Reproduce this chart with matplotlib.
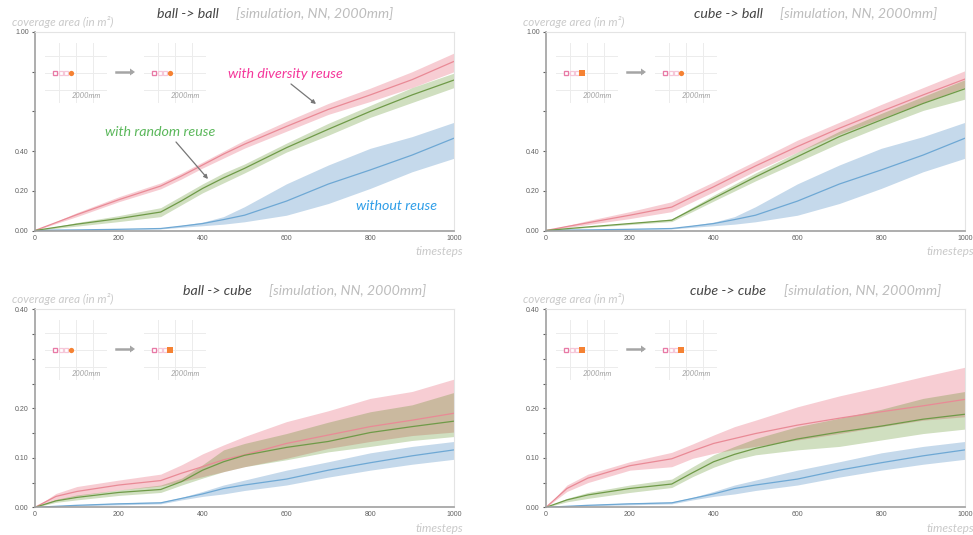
import matplotlib
matplotlib.use('Agg')
import matplotlib.pyplot as plt

W, H = 973, 535

timesteps = [0, 50, 100, 200, 300, 350, 400, 450, 500, 600, 700, 800, 900, 1000]
xticks = [0, 200, 400, 600, 800, 1000]

# ball -> ball
bb_pink = [0, .04, .08, .155, .224, .275, .33, .385, .435, .524, .61, .683, .76, .852]
bb_pink_hi = [0, .045, .09, .17, .24, .29, .345, .40, .455, .55, .64, .717, .80, .894]
bb_pink_lo = [0, .035, .07, .145, .21, .26, .315, .365, .415, .50, .585, .65, .72, .80]
bb_green = [0, .016, .032, .06, .093, .15, .212, .265, .313, .417, .51, .60, .683, .758]
bb_green_hi = [0, .02, .04, .075, .115, .175, .235, .29, .335, .44, .54, .63, .72, .793]
bb_green_lo = [0, .011, .022, .045, .07, .13, .19, .24, .29, .395, .48, .57, .645, .72]

# cube -> ball
cb_pink = [0, .02, .039, .077, .118, .17, .22, .273, .325, .423, .515, .60, .683, .763]
cb_pink_hi = [0, .025, .05, .095, .145, .195, .245, .298, .35, .455, .545, .635, .72, .805]
cb_pink_lo = [0, .015, .03, .06, .095, .145, .195, .248, .30, .395, .485, .565, .645, .722]
cb_green = [0, .009, .018, .035, .052, .107, .162, .216, .27, .372, .473, .557, .64, .714]
cb_green_hi = [0, .01, .02, .038, .058, .118, .178, .234, .29, .395, .50, .59, .675, .76]
cb_green_lo = [0, .007, .015, .03, .045, .096, .148, .199, .25, .345, .44, .525, .605, .662]

# without reuse is the same in both ball panels
ball_blue = [0, .002, .003, .006, .01, .022, .035, .055, .077, .148, .234, .305, .38, .465]
ball_blue_hi = [0, .002, .004, .007, .012, .026, .042, .07, .12, .235, .33, .414, .473, .545]
ball_blue_lo = [0, .001, .002, .005, .008, .016, .024, .032, .044, .077, .136, .212, .296, .364]

# ball -> cube
bc_pink = [0, .022, .032, .045, .054, .069, .082, .096, .106, .129, .146, .163, .176, .19]
bc_pink_hi = [0, .028, .042, .055, .067, .086, .108, .126, .143, .173, .195, .22, .234, .259]
bc_pink_lo = [0, .015, .023, .035, .043, .052, .062, .072, .082, .099, .119, .133, .145, .152]
bc_green = [0, .013, .02, .03, .036, .052, .075, .092, .105, .121, .133, .151, .163, .174]
bc_green_hi = [0, .016, .025, .035, .045, .059, .086, .116, .129, .149, .172, .193, .207, .232]
bc_green_lo = [0, .01, .015, .024, .03, .045, .059, .072, .082, .096, .112, .123, .135, .143]

# cube -> cube
cc_pink = [0, .038, .059, .084, .098, .114, .129, .139, .149, .166, .18, .193, .205, .218]
cc_pink_hi = [0, .045, .067, .092, .111, .128, .146, .163, .176, .203, .225, .244, .264, .283]
cc_pink_lo = [0, .032, .05, .075, .082, .099, .109, .117, .123, .136, .149, .163, .176, .183]
cc_green = [0, .015, .025, .038, .047, .07, .092, .107, .119, .138, .152, .164, .178, .188]
cc_green_hi = [0, .018, .03, .045, .057, .082, .106, .123, .139, .163, .18, .198, .22, .234]
cc_green_lo = [0, .011, .018, .03, .04, .062, .081, .096, .106, .116, .123, .136, .149, .158]

# without reuse in both cube panels
cube_blue = [0, .002, .004, .007, .009, .018, .027, .038, .045, .057, .075, .09, .104, .116]
cube_blue_hi = [0, .003, .005, .009, .011, .02, .032, .045, .055, .075, .092, .11, .123, .133]
cube_blue_lo = [0, .001, .003, .005, .007, .015, .022, .027, .034, .045, .061, .075, .087, .097]

# inset sketch, in mm around the target
inset_grid = [-1000, 0, 1000]
path_x = [-1235, -900, -590]
target_x = -275

plt.rcParams['font.family'] = ['Lato', 'DejaVu Sans']

PINK = dict(line='#e98a96', fill='#e03850')
GREEN = dict(line='#6f9a48', fill='#448004')
BLUE = dict(line='#6ea8d4', fill='#1868b0')


def band(ax, mean, lo, hi, c):
    ax.fill_between(timesteps, lo, hi, color=c['fill'], alpha=0.25, lw=0)
    ax.plot(timesteps, mean, color=c['line'], lw=0.9)


def put(fig, x, y, s, **kw):
    # text placed in reference pixels
    fig.text(x / W, 1 - y / H, s, va='center', **kw)


def sketch(fig, x0, y0, first_cube, second_cube):
    arrow_y = 1 - y0 / H
    for k, cube in enumerate([first_cube, second_cube]):
        cx = x0 + k * 99
        a = fig.add_axes([(cx - 31) / W, 1 - (y0 + 31) / H, 62 / W, 60 / H])
        a.set_xlim(-1820, 1820)
        a.set_ylim(-1760, 1760)
        a.axis('off')
        for g in inset_grid:
            a.axhline(g, color='#ececec', lw=0.7)
            a.axvline(g, color='#ececec', lw=0.7)
        a.plot(path_x, [0] * 3, ls='', marker='s', ms=3, mfc='white', mec='#f6c6d8', mew=0.9)
        a.plot(path_x[0], 0, marker='s', ms=3.2, mfc='white', mec='#e87aa6', mew=0.9)
        a.plot(target_x, 0, marker='s' if cube else 'o', ms=4.4 if cube else 3.8, color='#f58233', mew=0)
        put(fig, cx + 10.5, y0 + 24, '2000mm', color='#a0a0a0', fontsize=5.4,
            style='italic', ha='center')
    fig.add_artist(plt.Line2D([(x0 + 40) / W, (x0 + 55) / W], [arrow_y, arrow_y], color='#a5a5a5', lw=1.8))
    fig.patches.append(plt.Polygon([[(x0 + 54) / W, arrow_y + 3.5 / H], [(x0 + 59) / W, arrow_y],
                                    [(x0 + 54) / W, arrow_y - 3.5 / H]], transform=fig.transFigure,
                                   color='#a5a5a5', lw=0, figure=fig))


def panel(fig, x0, y_top, y_bot, ymax, yticks, ylabels, series, head, head_x, tail_x, title_y, label_y, steps_y):
    ax = fig.add_axes([x0 / W, 1 - y_bot / H, 419 / W, (y_bot - y_top) / H])
    for mean, lo, hi, c in series:
        band(ax, mean, lo, hi, c)
    ax.set_xlim(0, 1000)
    ax.set_ylim(0, ymax)
    ax.set_xticks(xticks)
    ax.set_yticks(yticks)
    ax.set_yticklabels(ylabels)
    ax.tick_params(labelsize=5, colors='#606060', length=2.5, width=0.8, pad=2,
                   labelfontfamily='Liberation Sans')
    ax.tick_params(axis='x', length=0, pad=3)
    for s in ['top', 'right']:
        ax.spines[s].set_color('#e4e4e4')
        ax.spines[s].set_linewidth(0.8)
    for s in ['left', 'bottom']:
        ax.spines[s].set_color('#a0a0a0')
        ax.spines[s].set_linewidth(1.2)
    put(fig, head_x, title_y, head, color='#444444', fontsize=10.2, style='italic')
    put(fig, tail_x, title_y, '[simulation, NN, 2000mm]', color='#bdbdbd', fontsize=10.2, style='italic')
    put(fig, x0 - 23, label_y, 'coverage area (in m²)', color='#c9c9c9', fontsize=8.4, style='italic')
    put(fig, x0 + 428, steps_y, 'timesteps', color='#c9c9c9', fontsize=8.6, style='italic', ha='right')
    return ax


fig = plt.figure(figsize=(W / 100, H / 100), dpi=100, facecolor='white')

top_ticks = [0, .2, .4, .6, .8, 1.0]
top_labels = ['0.00', '0.20', '0.40', '', '', '1.00']
bot_ticks = [0, .05, .1, .15, .2, .25, .3, .35, .4]
bot_labels = ['0.00', '', '0.10', '', '0.20', '', '', '', '0.40']

ax1 = panel(fig, 35, 32, 230.5, 1.0, top_ticks, top_labels,
            [(ball_blue, ball_blue_lo, ball_blue_hi, BLUE),
             (bb_pink, bb_pink_lo, bb_pink_hi, PINK),
             (bb_green, bb_green_lo, bb_green_hi, GREEN)],
            'ball -> ball', 157, 236, 14, 22, 251)
panel(fig, 546, 32, 230.5, 1.0, top_ticks, top_labels,
      [(ball_blue, ball_blue_lo, ball_blue_hi, BLUE),
       (cb_pink, cb_pink_lo, cb_pink_hi, PINK),
       (cb_green, cb_green_lo, cb_green_hi, GREEN)],
      'cube -> ball', 694, 780, 14, 22, 251)
panel(fig, 35, 309.3, 507.3, 0.4, bot_ticks, bot_labels,
      [(cube_blue, cube_blue_lo, cube_blue_hi, BLUE),
       (bc_pink, bc_pink_lo, bc_pink_hi, PINK),
       (bc_green, bc_green_lo, bc_green_hi, GREEN)],
      'ball -> cube', 183, 269, 291, 299, 528)
panel(fig, 546, 309.3, 507.3, 0.4, bot_ticks, bot_labels,
      [(cube_blue, cube_blue_lo, cube_blue_hi, BLUE),
       (cc_pink, cc_pink_lo, cc_pink_hi, PINK),
       (cc_green, cc_green_lo, cc_green_hi, GREEN)],
      'cube -> cube', 690, 784, 291, 299, 528)

sketch(fig, 76, 72, False, False)
sketch(fig, 587, 72, True, False)
sketch(fig, 76, 349, False, True)
sketch(fig, 587, 349, True, True)

put(fig, 228, 74, 'with diversity reuse', color='#f5379b', fontsize=10.3, style='italic')
put(fig, 105, 132.5, 'with random reuse', color='#5cb85c', fontsize=10.3, style='italic')
put(fig, 356, 206, 'without reuse', color='#2f9ee8', fontsize=10.3, style='italic')

for start, end in [((291, 84), (316, 104)), ((176, 142), (208, 179))]:
    ax1.annotate('', xy=(end[0] / W, 1 - end[1] / H), xytext=(start[0] / W, 1 - start[1] / H),
                 xycoords='figure fraction', textcoords='figure fraction',
                 arrowprops=dict(arrowstyle='-|>', color='#777777', lw=0.9, mutation_scale=6,
                                 shrinkA=0, shrinkB=0))

plt.savefig('out.png', dpi=100, facecolor='white')
